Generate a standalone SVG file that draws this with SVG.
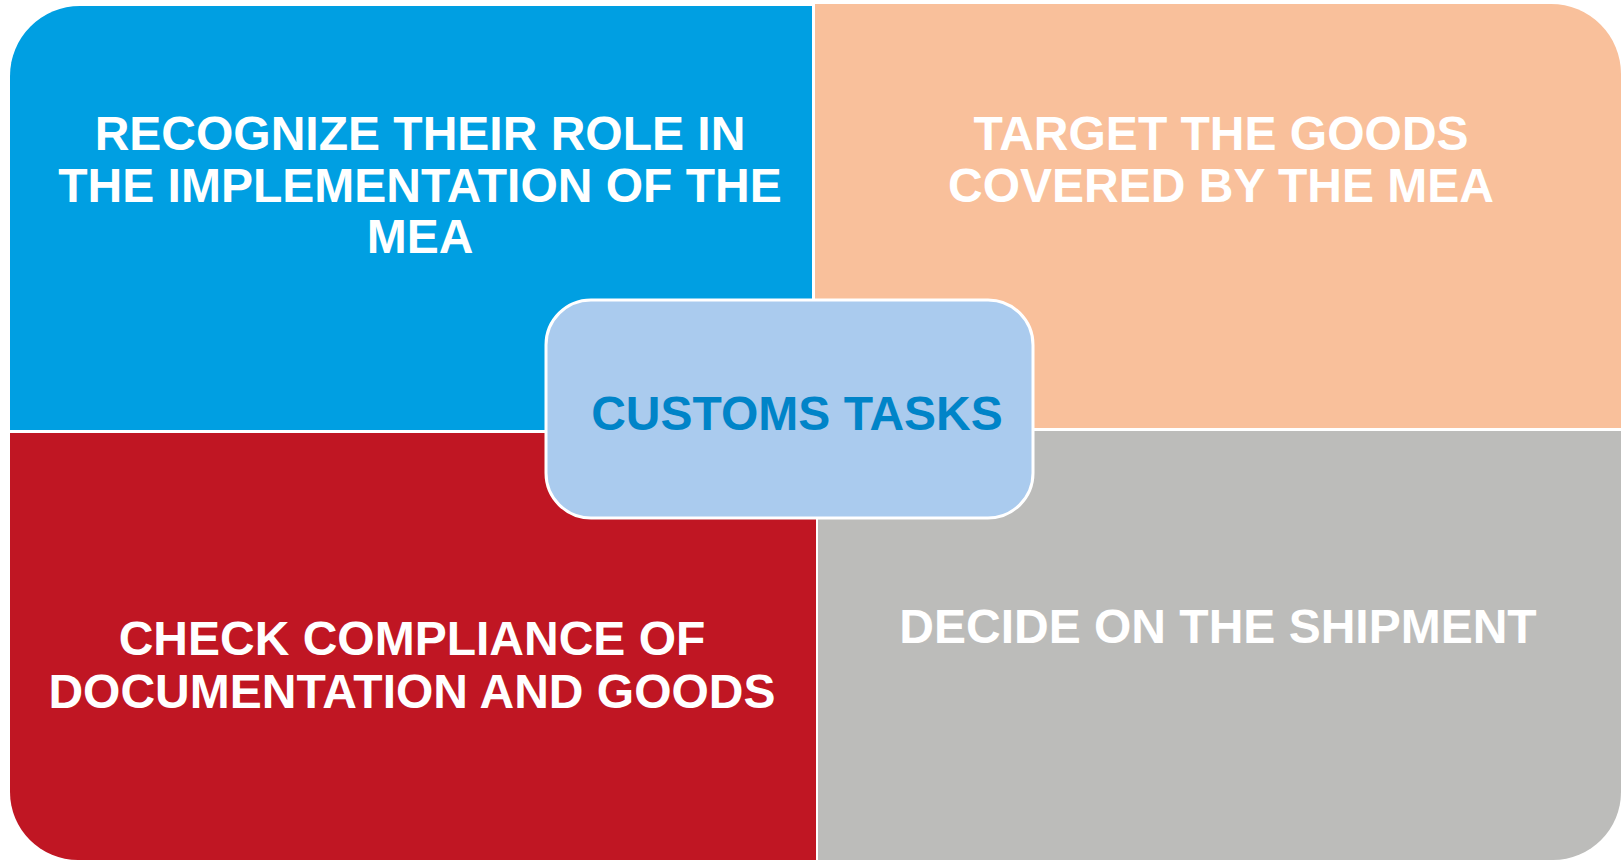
<svg xmlns="http://www.w3.org/2000/svg" width="1623" height="862" viewBox="0 0 1623 862">
<style>
.q text{font-family:"Liberation Sans",Arial,sans-serif;font-weight:bold;font-size:48px;fill:#ffffff;text-anchor:middle}
.c text{font-family:"Liberation Sans",Arial,sans-serif;font-weight:bold;font-size:48px;fill:#0084C8;text-anchor:middle}
</style>
<rect width="1623" height="862" fill="#ffffff"/>
<g id="node-recognize" class="q">
<path d="M10,430 L10,76 A70,70 0 0 1 80,6 L812,6 L812,430 Z" fill="#009FE2"/>
<text x="420" y="150">RECOGNIZE THEIR ROLE IN</text>
<text x="420" y="202">THE IMPLEMENTATION OF THE</text>
<text x="420" y="253">MEA</text>
</g>
<g id="node-target" class="q">
<path d="M815,4 L1551,4 A70,70 0 0 1 1621,74 L1621,428 L815,428 Z" fill="#F9C09B"/>
<text x="1221" y="150">TARGET THE GOODS</text>
<text x="1221" y="202">COVERED BY THE MEA</text>
</g>
<g id="node-check" class="q">
<path d="M10,433 L816,433 L816,860 L78,860 A68,68 0 0 1 10,792 Z" fill="#C01623"/>
<text x="412" y="655">CHECK COMPLIANCE OF</text>
<text x="412" y="708">DOCUMENTATION AND GOODS</text>
</g>
<g id="node-decide" class="q">
<path d="M818,431 L1621,431 L1621,792 A68,68 0 0 1 1553,860 L818,860 Z" fill="#BCBCBA"/>
<text x="1218" y="643">DECIDE ON THE SHIPMENT</text>
</g>
<g id="connectors"></g>
<g id="node-center" class="c">
<rect x="546" y="300" width="487" height="218" rx="45" ry="45" fill="#AACBEE" stroke="#ffffff" stroke-width="3"/>
<text x="797" y="430">CUSTOMS TASKS</text>
</g>
</svg>
